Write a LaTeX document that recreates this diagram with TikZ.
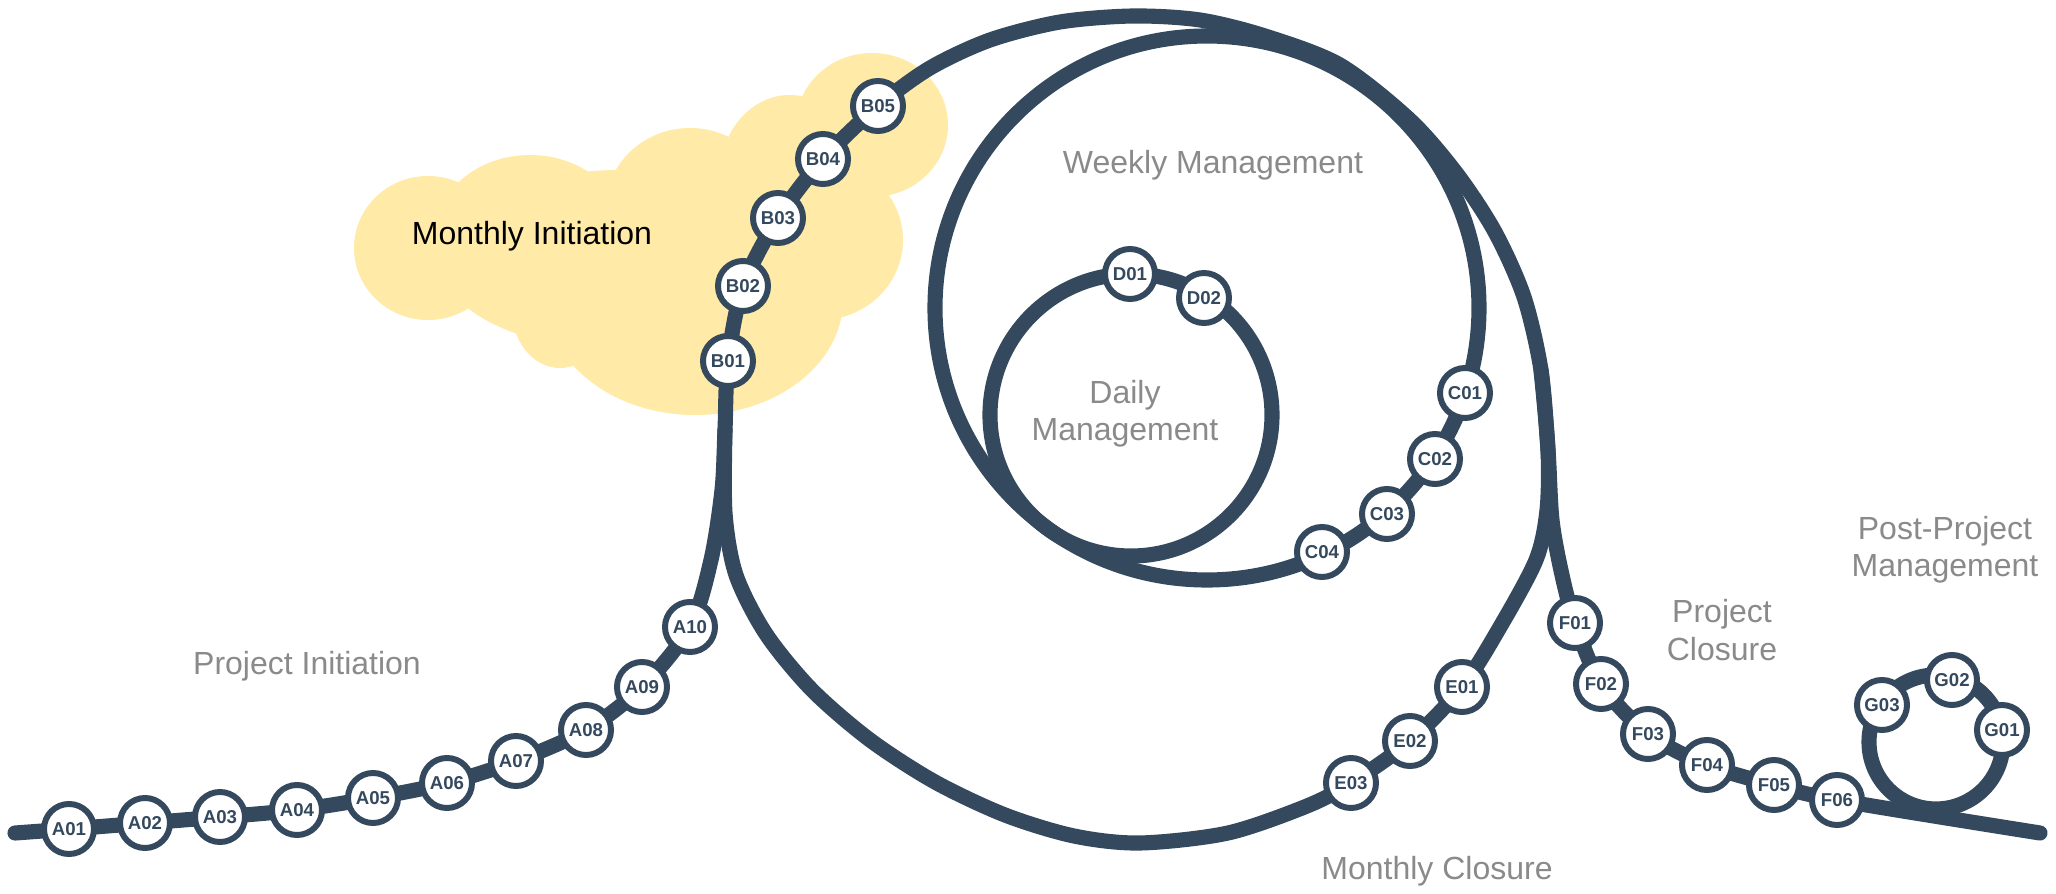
\documentclass[tikz,border=0pt]{standalone}
\usepackage{fontspec}
\setmainfont{Liberation Sans}
\usetikzlibrary{positioning}

\definecolor{track}{HTML}{34495E}
\definecolor{cloudfill}{HTML}{FFEAA7}
\definecolor{phasegray}{HTML}{8A8A8A}

\begin{document}
\begin{tikzpicture}[x=0.01cm, y=-0.01cm,
  trackline/.style={draw=track, line width=4.3pt, line cap=round},
  stn/.style={circle, draw=track, fill=white, line width=1.7pt,
    minimum size=0.5cm, inner sep=0pt, text=track,
    font=\fontsize{5.3}{6}\selectfont\bfseries},
  phase/.style={text=phasegray, anchor=base, align=center,
    font=\fontsize{9.1}{10.8}\selectfont}]

\useasboundingbox (0,0) rectangle (2056,894);

% loop centres
\coordinate (Wk) at (1207,308);
\coordinate (Dy) at (1131,415);
\coordinate (Pp) at (1936,742);

% stations
\coordinate (A01) at (69,829);   \coordinate (A02) at (145,823);
\coordinate (A03) at (220,817);  \coordinate (A04) at (297,810);
\coordinate (A05) at (373,798);  \coordinate (A06) at (447,783);
\coordinate (A07) at (516,761);  \coordinate (A08) at (586,730);
\coordinate (A09) at (642,687);  \coordinate (A10) at (690,627);
\coordinate (B01) at (728,361);  \coordinate (B02) at (743,286);
\coordinate (B03) at (778,218);  \coordinate (B04) at (823,159);
\coordinate (B05) at (878,106);
\coordinate (C01) at (1465,393); \coordinate (C02) at (1435,459);
\coordinate (C03) at (1387,514); \coordinate (C04) at (1322,552);
\coordinate (D01) at (1130,274); \coordinate (D02) at (1204,298);
\coordinate (E01) at (1462,687); \coordinate (E02) at (1410,741);
\coordinate (E03) at (1351,783);
\coordinate (F01) at (1575,623); \coordinate (F02) at (1601,684);
\coordinate (F03) at (1648,734); \coordinate (F04) at (1707,765);
\coordinate (F05) at (1774,785); \coordinate (F06) at (1837,800);
\coordinate (G01) at (2002,730); \coordinate (G02) at (1952,680);
\coordinate (G03) at (1882,705);
\coordinate (Start) at (15,833);
\coordinate (End) at (2040,833);

% cloud behind the B stations
\fill[cloudfill] (428,248) ellipse [x radius=74, y radius=72];
\fill[cloudfill] (530,235) ellipse [x radius=95, y radius=80];
\fill[cloudfill] (690,210) ellipse [x radius=85, y radius=82];
\fill[cloudfill] (790,175) ellipse [x radius=70, y radius=80];
\fill[cloudfill] (872,125) ellipse [x radius=76, y radius=72];
\fill[cloudfill] (820,240) ellipse [x radius=83, y radius=80];
\fill[cloudfill] (695,300) ellipse [x radius=148, y radius=115];
\fill[cloudfill] (560,310) ellipse [x radius=48, y radius=58];
\fill[cloudfill] (620,260) ellipse [x radius=180, y radius=90];

% main line
\draw[trackline] plot[smooth] coordinates {(Start) (A01) (A02) (A03) (A04)
  (A05) (A06) (A07) (A08) (A09) (A10) (711,560) (722,490) (725,430)
  (B01) (B02) (B03) (B04) (B05) (930,68) (990,40) (1060,22) (1133,16)
  (1200,20) (1265,36) (1340,65) (1410,120) (1457,174) (1495,232)
  (1524,297) (1541,370) (1548,450) (1552,520) (1562,575) (F01) (F02)
  (F03) (F04) (F05) (F06) (End)};

% monthly loop
\draw[trackline] plot[smooth] coordinates {(1541,370) (1548,450)
  (1547,510) (1536,560) (1500,627) (E01) (E02) (E03) (1307,806)
  (1228,833) (1140,843) (1074,836) (1005,815) (935,782) (870,740)
  (812,690) (766,634) (736,575) (725,513) (725,430)};

% weekly, daily and post-project loops
\draw[trackline] (Wk) circle [radius=272];
\draw[trackline] (Dy) circle [radius=141];
\draw[trackline] (Pp) circle [radius=67];

\foreach \s in {A01,A02,A03,A04,A05,A06,A07,A08,A09,A10,
    B01,B02,B03,B04,B05,C01,C02,C03,C04,D01,D02,
    E01,E02,E03,F01,F02,F03,F04,F05,F06,G01,G02,G03}
  \node[stn] (s\s) at (\s) {\s};

% phase labels
\node[phase, text=black] (lblMI) at (532,245) {Monthly Initiation};
\node[phase] (lblPI) at (307,675) {Project Initiation};
\node[phase] (lblWM) at (1213,174) {Weekly Management};
\node[phase] (lblDM) at (1125,441) {Daily\\Management};
\node[phase] (lblMC) at (1437,879) {Monthly Closure};
\node[phase] (lblPC) at (1722,660) {Project\\Closure};
\node[phase] (lblPM) at (1945,577) {Post-Project\\Management};

\end{tikzpicture}
\end{document}
